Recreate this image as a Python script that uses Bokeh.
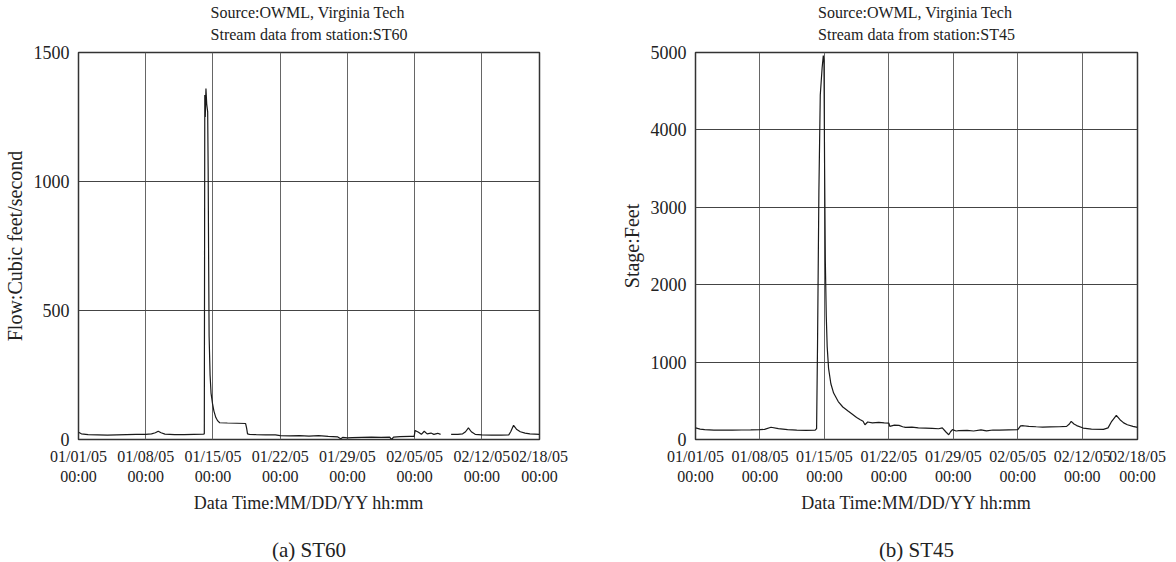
import numpy as np
import pandas as pd
from bokeh.plotting import figure
from bokeh.models import FixedTicker, Title, Range1d, ColumnDataSource
from bokeh.layouts import row
from bokeh.embed import file_html
from bokeh.resources import INLINE

START = pd.Timestamp("2005-01-01 00:00")
END_DAY = 48.0

tick_days = [0, 7, 14, 21, 28, 35, 42, 48]
tick_labels = ["01/01/05", "01/08/05", "01/15/05", "01/22/05",
               "01/29/05", "02/05/05", "02/12/05", "02/18/05"]

# ST60 flow (cubic feet / second); days after 01/01/05 00:00
st60_day = [0.0, 0.3, 1.0, 2.0, 3.0, 4.0, 5.0, 6.0, 7.0, 7.6, 8.0, 8.3, 8.6, 9.0,
            10.0, 11.0, 12.0, 13.0, 13.1, 13.15, 13.2, 13.27, 13.35, 13.45, 13.5,
            13.55, 13.6, 13.7, 13.8, 13.95, 14.1, 14.3, 14.5, 14.7, 15.5, 16.5,
            17.4, 17.5, 17.6, 17.8, 18.5, 19.5, 20.5, 21.0, 22.0, 23.0, 24.0, 25.0,
            26.0, 27.0, 27.3, 27.5, 28.0, 28.5, 29.5, 30.5, 31.5, 32.4, 32.6, 32.8,
            33.5, 34.5, 34.95, 35.05, 35.4, 35.7, 36.0, 36.3, 36.7, 37.0, 37.4, 37.7,
            38.2, 38.8, 39.5, 40.0, 40.3, 40.6, 40.9, 41.3, 42.0, 43.0, 44.0, 44.8,
            45.0, 45.3, 45.6, 46.0, 46.5, 47.0, 48.0]
st60_flow = [28, 22, 19, 18, 17, 18, 19, 20, 20, 22, 26, 32, 26, 21,
             19, 19, 20, 21, 22, 1335, 1250, 1360, 1300, 1270, 1050,
             700, 400, 250, 180, 140, 110, 85, 72, 65, 64, 63,
             62, 45, 22, 20, 19, 18, 18, 15, 14, 15, 13, 15,
             12, 10, 3, 8, 6, 7, 8, 9, 8, 9, 0, 9,
             11, 12, 12, 35, 28, 20, 32, 22, 25, 20, 24, 20,
             float("nan"), 20, 20, 22, 30, 45, 30, 20, 18, 17, 17, 18,
             30, 55, 40, 30, 25, 22, 20]

# ST45 stage (feet)
st45_day = [0.0, 0.5, 1.0, 2.0, 3.0, 4.0, 5.0, 6.0, 7.0, 7.5, 8.2, 9.0, 10.0, 11.0,
            12.0, 13.0, 13.15, 13.25, 13.4, 13.55, 13.75, 13.88, 13.95, 14.02, 14.1,
            14.2, 14.3, 14.45, 14.7, 15.0, 15.5, 16.0, 16.6, 17.0, 17.5, 17.9, 18.2,
            18.4, 18.7, 19.2, 19.9, 20.5, 21.0, 21.1, 21.6, 22.1, 22.5, 22.8, 23.5,
            24.2, 25.0, 25.7, 26.4, 26.8, 27.2, 27.5, 27.7, 27.9, 28.3, 28.6, 29.5,
            30.2, 31.0, 31.6, 32.3, 33.0, 34.0, 35.0, 35.3, 35.6, 36.2, 37.0, 37.7,
            38.5, 39.5, 40.3, 40.6, 40.8, 41.1, 41.4, 42.1, 43.0, 44.3, 44.8, 45.2,
            45.7, 46.1, 46.5, 46.9, 47.5, 48.0]
st45_stage = [150, 135, 128, 122, 120, 122, 123, 125, 128, 130, 158, 140, 128, 122,
              118, 120, 140, 1200, 3200, 4450, 4800, 4960, 4900, 3500, 2300,
              1600, 1200, 920, 720, 600, 490, 420, 365, 330, 285, 255, 235,
              190, 226, 215, 222, 215, 212, 170, 185, 183, 165, 157, 160,
              150, 148, 145, 139, 150, 97, 62, 100, 127, 110, 114, 118,
              110, 125, 112, 123, 120, 125, 127, 175, 178, 170, 165, 161,
              163, 165, 170, 200, 235, 200, 180, 148, 135, 131, 150, 235,
              312, 256, 215, 191, 170, 157]

FONT = "Liberation Serif"
FRAME_H = 387


def to_dt(days):
    return START + pd.to_timedelta(np.asarray(days, dtype=float), unit="D")


def tick_ms(d):
    return int((START + pd.Timedelta(days=d)).value // 10**6)


def make_panel(days, vals, ymax, yticks, ylabel, station, caption, width,
               bl, br, bt, bb):
    p = figure(width=width, height=562, x_axis_type="datetime",
               output_backend="svg", toolbar_location=None,
               x_range=Range1d(START, START + pd.Timedelta(days=END_DAY)),
               y_range=Range1d(0, ymax),
               min_border_left=bl, min_border_right=br,
               min_border_top=bt, min_border_bottom=bb)
    p.title.visible = False
    p.background_fill_color = "white"
    p.border_fill_color = "white"
    p.outline_line_color = "#333333"
    p.outline_line_width = 1.5

    src = ColumnDataSource(dict(t=to_dt(days), v=np.asarray(vals, dtype=float)))
    p.line("t", "v", source=src, line_color="#1a1a1a", line_width=1.2)

    ticks = [tick_ms(d) for d in tick_days]
    p.xaxis.ticker = FixedTicker(ticks=ticks)
    p.xaxis.major_label_overrides = {t: f"{lab}\n00:00" for t, lab in zip(ticks, tick_labels)}
    p.yaxis.ticker = FixedTicker(ticks=yticks)

    for ax in (p.xaxis[0], p.yaxis[0]):
        ax.axis_line_color = None
        ax.major_tick_line_color = None
        ax.minor_tick_line_color = None
        ax.major_label_text_font = FONT
        ax.axis_label_text_font = FONT
        ax.axis_label_text_font_style = "normal"
        ax.major_label_text_color = "#222222"
        ax.axis_label_text_color = "#222222"
    p.xaxis.major_label_text_font_size = "16px"
    p.yaxis.major_label_text_font_size = "18px"
    p.xaxis.axis_label = "Data Time:MM/DD/YY hh:mm"
    p.yaxis.axis_label = ylabel
    p.xaxis.axis_label_text_font_size = "18px"
    p.yaxis.axis_label_text_font_size = "20px"
    p.xaxis.major_label_standoff = 2
    p.yaxis.major_label_standoff = 3
    p.xaxis.axis_label_standoff = 5
    p.yaxis.axis_label_standoff = 5

    p.xgrid.grid_line_color = "#666666"
    p.ygrid.grid_line_color = "#444444"
    p.xgrid.grid_line_width = 1
    p.ygrid.grid_line_width = 1

    top_gap = Title(text=" ", text_font_size="2px", standoff=5)
    p.add_layout(top_gap, "above")
    head = Title(text=f"Source:OWML, Virginia Tech\nStream data from station:{station}",
                 align="center", vertical_align="bottom", text_font=FONT,
                 text_font_size="16px", text_line_height=1.3,
                 text_font_style="normal", text_color="#222222", standoff=0)
    p.add_layout(head, "above")

    spacer = Title(text=" ", text_font_size="2px", standoff=16)
    p.add_layout(spacer, "below")
    cap = Title(text=caption, align="center", vertical_align="bottom",
                text_font=FONT, text_font_size="21px", text_font_style="normal",
                text_color="#222222", standoff=0)
    p.add_layout(cap, "below")
    return p


p1 = make_panel(st60_day, st60_flow, 1500, [0, 500, 1000, 1500],
                "Flow:Cubic feet/second", "ST60", "(a) ST60",
                600, 76, 61, 52, 562 - 52 - FRAME_H)
p2 = make_panel(st45_day, st45_stage, 5000, [0, 1000, 2000, 3000, 4000, 5000],
                "Stage:Feet", "ST45", "(b) ST45",
                576, 95, 39, 52, 562 - 52 - FRAME_H)

layout = row(p1, p2, spacing=0)
open("out.html", "w").write(file_html(layout, INLINE))
